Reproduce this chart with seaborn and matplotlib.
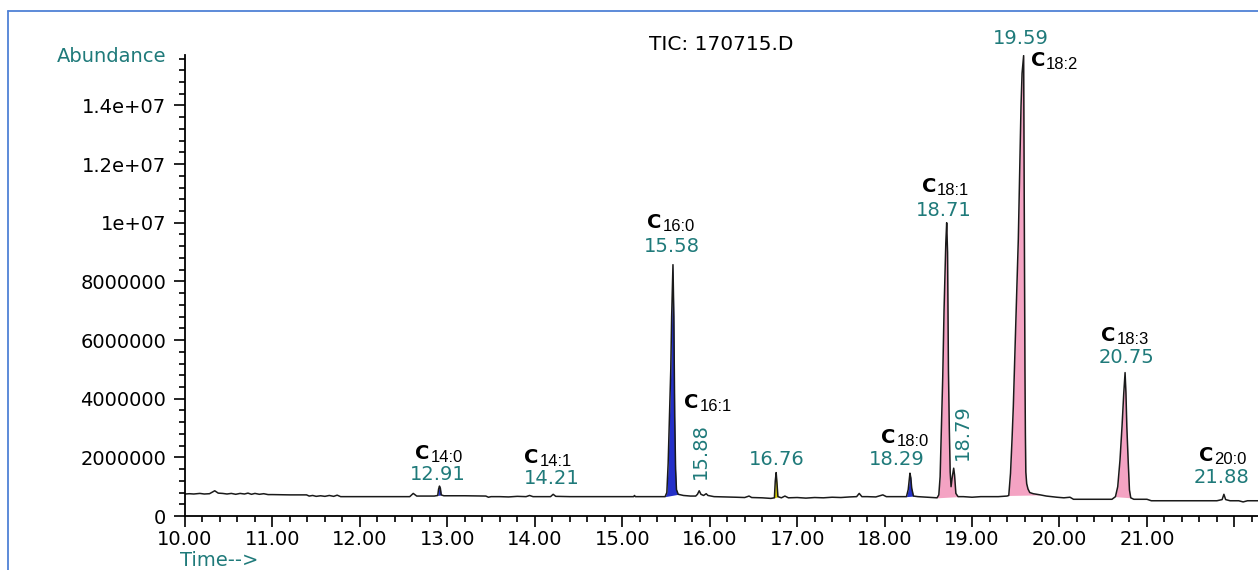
import numpy as np
import pandas as pd
import seaborn as sns
import matplotlib
matplotlib.use("Agg")
import matplotlib.pyplot as plt
from matplotlib.ticker import MultipleLocator, FixedLocator, FixedFormatter
from matplotlib.lines import Line2D

# ---- total ion chromatogram trace (time in min, abundance in millions) ----
TIME = [
    10.00, 10.05, 10.10, 10.17, 10.22, 10.28, 10.34, 10.38, 10.43, 10.48,
    10.53, 10.58, 10.63, 10.68, 10.72, 10.76, 10.80, 10.85, 10.90, 10.95,
    11.00, 11.20, 11.39, 11.42, 11.46, 11.50, 11.55, 11.60, 11.65, 11.70,
    11.74, 11.78, 12.00, 12.30, 12.57, 12.61, 12.65, 12.85, 12.89, 12.90,
    12.91, 12.92, 12.93, 12.96, 13.20, 13.44, 13.47, 13.50, 13.60, 13.70,
    13.80, 13.90, 13.94, 13.98, 14.10, 14.18, 14.21, 14.24, 14.40, 14.80,
    15.13, 15.14, 15.15, 15.49, 15.51, 15.525, 15.54, 15.555, 15.565, 15.575,
    15.58, 15.59, 15.60, 15.61, 15.62, 15.64, 15.70, 15.78, 15.84, 15.86,
    15.88, 15.90, 15.93, 15.96, 15.98, 16.05, 16.20, 16.30, 16.40, 16.45,
    16.48, 16.60, 16.70, 16.74, 16.75, 16.76, 16.77, 16.78, 16.82, 16.86,
    16.90, 17.00, 17.10, 17.20, 17.30, 17.40, 17.50, 17.60, 17.68, 17.71,
    17.74, 17.80, 17.90, 17.98, 18.02, 18.15, 18.25, 18.27, 18.285, 18.29,
    18.30, 18.31, 18.33, 18.38, 18.50, 18.60, 18.62, 18.635, 18.645, 18.655,
    18.665, 18.672, 18.68, 18.69, 18.70, 18.71, 18.72, 18.725, 18.73, 18.74,
    18.75, 18.76, 18.775, 18.79, 18.80, 18.815, 18.84, 18.90, 19.00, 19.10,
    19.20, 19.30, 19.40, 19.42, 19.44, 19.457, 19.472, 19.483, 19.495, 19.506,
    19.518, 19.529, 19.537, 19.545, 19.552, 19.56, 19.572, 19.59, 19.595, 19.60,
    19.605, 19.61, 19.615, 19.625, 19.64, 19.66, 19.70, 19.78, 19.85, 19.97,
    20.05, 20.12, 20.16, 20.40, 20.60, 20.64, 20.666, 20.692, 20.715, 20.735,
    20.75, 20.76, 20.77, 20.785, 20.80, 20.815, 20.85, 21.00, 21.05, 21.40,
    21.80, 21.86, 21.88, 21.90, 21.95, 22.05, 22.10, 22.15, 22.27,
]
ABUND_M = [
    0.75, 0.76, 0.75, 0.77, 0.75, 0.76, 0.86, 0.78, 0.77, 0.75,
    0.77, 0.74, 0.77, 0.75, 0.78, 0.74, 0.77, 0.74, 0.76, 0.73,
    0.73, 0.72, 0.72, 0.68, 0.70, 0.67, 0.69, 0.67, 0.70, 0.67,
    0.71, 0.66, 0.66, 0.66, 0.66, 0.77, 0.68, 0.68, 0.70, 0.92,
    1.02, 0.95, 0.72, 0.69, 0.69, 0.68, 0.64, 0.66, 0.66, 0.65,
    0.67, 0.66, 0.70, 0.66, 0.66, 0.66, 0.74, 0.67, 0.66, 0.66,
    0.66, 0.70, 0.66, 0.66, 0.80, 1.80, 3.40, 5.00, 6.80, 8.00,
    8.57, 6.80, 3.40, 1.60, 0.90, 0.74, 0.70, 0.68, 0.68, 0.74,
    0.86, 0.74, 0.70, 0.76, 0.70, 0.66, 0.65, 0.64, 0.63, 0.68,
    0.63, 0.62, 0.60, 0.62, 1.20, 1.48, 1.10, 0.66, 0.62, 0.68,
    0.62, 0.63, 0.61, 0.63, 0.62, 0.64, 0.63, 0.65, 0.66, 0.77,
    0.66, 0.66, 0.65, 0.72, 0.66, 0.66, 0.66, 0.90, 1.30, 1.46,
    1.30, 0.95, 0.68, 0.66, 0.64, 0.62, 0.72, 1.34, 2.48, 3.62,
    4.75, 5.89, 7.03, 8.17, 9.31, 10.00, 9.00, 7.00, 5.00, 3.00,
    1.50, 1.00, 1.35, 1.63, 1.40, 0.77, 0.66, 0.66, 0.64, 0.66,
    0.66, 0.66, 0.68, 0.70, 1.46, 2.59, 3.73, 4.87, 6.00, 7.14,
    8.28, 9.42, 10.56, 11.70, 12.83, 13.97, 15.10, 15.70, 12.00, 8.00,
    5.00, 2.80, 1.50, 1.10, 0.92, 0.80, 0.76, 0.72, 0.68, 0.64,
    0.62, 0.64, 0.57, 0.57, 0.57, 0.66, 1.00, 1.91, 3.05, 4.19,
    4.89, 4.19, 3.05, 1.91, 0.89, 0.62, 0.57, 0.57, 0.52, 0.52,
    0.52, 0.56, 0.74, 0.56, 0.52, 0.52, 0.48, 0.52, 0.52,
]

# ---- integrated peak windows ----
FILL_START = [12.89, 15.49, 16.74, 18.25, 18.60, 19.42, 20.64]
FILL_END = [12.93, 15.64, 16.78, 18.33, 18.84, 19.78, 20.815]
FILL_KIND = ["sat", "sat", "other", "sat", "unsat", "unsat", "unsat"]

# ---- peak annotations ----
PEAK_RT = [12.91, 14.21, 15.58, 15.88, 16.76, 18.29, 18.71, 18.79, 19.59, 20.75, 21.88]
PEAK_NAME = ["14:0", "14:1", "16:0", "16:1", None, "18:0", "18:1", None, "18:2", "18:3", "20:0"]

# ---- axis ticks ----
XTICKS = [10, 11, 12, 13, 14, 15, 16, 17, 18, 19, 20, 21, 22]
XTICK_LABELS = ["10.00", "11.00", "12.00", "13.00", "14.00", "15.00", "16.00",
                "17.00", "18.00", "19.00", "20.00", "21.00", ""]
YTICKS = [0, 2e6, 4e6, 6e6, 8e6, 1e7, 1.2e7, 1.4e7]
YTICK_LABELS = ["0", "2000000", "4000000", "6000000", "8000000", "1e+07", "1.2e+07", "1.4e+07"]

# ---------------------------------------------------------------------------
TEAL = "#1f7a7a"
FILL_COLORS = {"sat": "#2430c8", "other": "#d6cc00", "unsat": "#f4a3c3"}
FS = 14

# label placement, in pixels relative to each apex
RT_OFFSET = [(-2, 6), (-1, 10), (-1, 13), (1, 12), (1, 8), (-13, 8),
             (-3, 7), (9, 8), (-3, 12), (1, 10), (-2, 11)]
RT_ROTATED = [False, False, False, True, False, False, False, True, False, False, False]
NAME_OFFSET = [(-24, 27), (-29, 31), (-26, 37), (-15, 83), None, (-29, 30),
               (-25, 31), None, (7, -10), (-24, 32), (-25, 33)]

sns.set_theme(style="ticks")
plt.rcParams["font.family"] = ["DejaVu Sans"]

W, H = 1258, 570
fig = plt.figure(figsize=(W / 100, H / 100), dpi=100, facecolor="white")
ax = fig.add_axes([185 / W, (H - 516) / H, (W - 185) / W, (516 - 55) / H])
ax.set_facecolor("white")

df = pd.DataFrame({"time": TIME, "abundance": np.array(ABUND_M) * 1e6})
t = df["time"].to_numpy()
y = df["abundance"].to_numpy()

# integrated areas under the trace
for s, e, kind in zip(FILL_START, FILL_END, FILL_KIND):
    m = (t >= s) & (t <= e)
    tt, yy = t[m], y[m]
    base = np.interp(tt, [tt[0], tt[-1]], [yy[0], yy[-1]])
    ax.fill_between(tt, base, yy, color=FILL_COLORS[kind], lw=0, zorder=1)

sns.lineplot(data=df, x="time", y="abundance", ax=ax, color="#1a1a1a",
             lw=1.1, estimator=None, sort=False, zorder=2)

ax.set_xlim(10, 22.27)
ax.set_ylim(0, 15.72e6)
ax.set_xlabel("")
ax.set_ylabel("")

for side in ["top", "right"]:
    ax.spines[side].set_visible(False)
for side in ["left", "bottom"]:
    ax.spines[side].set_color("black")
    ax.spines[side].set_linewidth(1.3)

ax.xaxis.set_major_locator(FixedLocator(XTICKS))
ax.xaxis.set_major_formatter(FixedFormatter(XTICK_LABELS))
ax.xaxis.set_minor_locator(MultipleLocator(0.2))
ax.yaxis.set_major_locator(FixedLocator(YTICKS))
ax.yaxis.set_major_formatter(FixedFormatter(YTICK_LABELS))
ax.yaxis.set_minor_locator(MultipleLocator(4e5))
ax.tick_params(which="major", direction="out", length=8, width=1.2,
               colors="black", labelsize=FS)
ax.tick_params(which="minor", direction="out", length=4.3, width=1.2, colors="black")
ax.tick_params(axis="x", which="major", pad=2)
ax.tick_params(axis="y", which="major", pad=5.5)

# retention-time and compound labels
for i, rt in enumerate(PEAK_RT):
    apex = np.interp(rt, t, y)
    dx, dy = RT_OFFSET[i]
    if RT_ROTATED[i]:
        ax.annotate(f"{rt:.2f}", xy=(rt, apex), xytext=(dx, dy),
                    textcoords="offset pixels", rotation=90, ha="center",
                    va="bottom", color=TEAL, fontsize=FS, zorder=3)
    else:
        ax.annotate(f"{rt:.2f}", xy=(rt, apex), xytext=(dx, dy),
                    textcoords="offset pixels", ha="center", va="baseline",
                    color=TEAL, fontsize=FS, zorder=3)
    if PEAK_NAME[i] is not None:
        nx, ny = NAME_OFFSET[i]
        c = ax.annotate("C", xy=(rt, apex), xytext=(nx, ny),
                        textcoords="offset pixels", ha="left", va="baseline",
                        fontsize=14, fontweight="bold", color="black", zorder=3)
        ax.annotate(PEAK_NAME[i], xy=(1, 0), xycoords=c, xytext=(1, -2),
                    textcoords="offset pixels", ha="left", va="bottom",
                    fontsize=12, family=["Liberation Sans", "DejaVu Sans"],
                    color="black", zorder=3)

fig.text(721 / W, 1 - 44 / H, "TIC: 170715.D", ha="center", va="center",
         fontsize=14.5, color="black")
fig.text(166 / W, 1 - 57 / H, "Abundance", ha="right", va="center",
         fontsize=FS, color=TEAL)
fig.text(180 / W, 1 - 566 / H, "Time-->", ha="left", va="baseline",
         fontsize=FS, color=TEAL)

# window frame
frame = "#4f81d6"
fig.add_artist(Line2D([8 / W, 8 / W], [0, 1 - 11 / H], color=frame, lw=1.3,
                      transform=fig.transFigure))
fig.add_artist(Line2D([8 / W, 1], [1 - 11 / H, 1 - 11 / H], color=frame, lw=1.3,
                      transform=fig.transFigure))

fig.savefig("out.png", dpi=100, facecolor="white")
